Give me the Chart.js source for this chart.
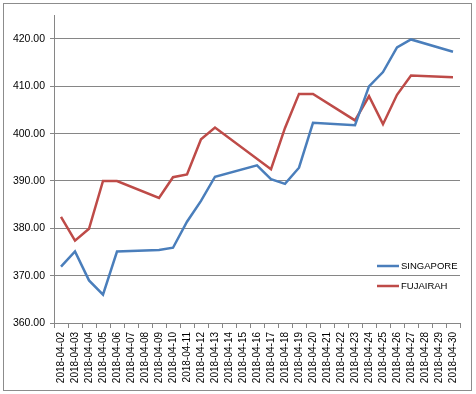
<!DOCTYPE html>
<html>
<head>
<meta charset="utf-8">
<script src="https://cdn.jsdelivr.net/npm/chart.js@4"></script>
<style>
    body { margin: 0; background: #fff; }
    .frame {
        position: absolute;
        left: 3px;
        top: 3px;
        width: 467px;
        height: 386px;
        border: 1px solid #8c8c8c;
    }
    canvas { display: block; }
</style>
</head>
<body>
<div class="frame"><canvas id="chart" width="467" height="386"></canvas></div>
<script>
const dates = [
    '2018-04-02', '2018-04-03', '2018-04-04', '2018-04-05', '2018-04-06', '2018-04-07',
    '2018-04-08', '2018-04-09', '2018-04-10', '2018-04-11', '2018-04-12', '2018-04-13',
    '2018-04-14', '2018-04-15', '2018-04-16', '2018-04-17', '2018-04-18', '2018-04-19',
    '2018-04-20', '2018-04-21', '2018-04-22', '2018-04-23', '2018-04-24', '2018-04-25',
    '2018-04-26', '2018-04-27', '2018-04-28', '2018-04-29', '2018-04-30'
];

// weekends have no prices, the line just runs across them
const singapore = [
    371.9, 375.1, 369.0, 366.0, 375.1, null,
    null, 375.4, 375.9, 381.4, 385.8, 390.9,
    null, null, 393.3, 390.4, 389.4, 392.8,
    402.3, null, null, 401.8, 410.0, 413.0,
    418.2, 419.9, null, null, 417.3
];

const fujairah = [
    382.4, 377.4, 379.9, 390.0, 390.0, null,
    null, 386.4, 390.8, 391.4, 398.8, 401.3,
    null, null, null, 392.5, 401.2, 408.4,
    408.4, null, null, 402.8, 407.9, 402.0,
    408.2, 412.3, null, null, 411.9
];

const seriesNames = ['SINGAPORE', 'FUJAIRAH'];
const seriesColors = ['#4a7ebb', '#be4b48'];

const axisGray = '#868686';
const labelFont = { family: "'Liberation Sans', Arial, sans-serif", size: 10 };

// small legend sitting inside the plot, lower right
const insideLegend = {
    id: 'insideLegend',
    afterDraw(chart) {
        const ctx = chart.ctx;
        ctx.save();
        ctx.font = "9.5px 'Liberation Sans', Arial, sans-serif";
        ctx.textBaseline = 'middle';
        chart.data.datasets.forEach((ds, i) => {
            const y = 262 + i * 20;
            ctx.strokeStyle = ds.borderColor;
            ctx.lineWidth = 2.5;
            ctx.beginPath();
            ctx.moveTo(373, y);
            ctx.lineTo(395, y);
            ctx.stroke();
            ctx.fillStyle = '#000';
            ctx.fillText(ds.label, 397, y + 0.5);
        });
        ctx.restore();
    }
};

new Chart(document.getElementById('chart'), {
    type: 'line',
    data: {
        labels: dates,
        datasets: [
            {
                label: seriesNames[0],
                data: singapore,
                borderColor: seriesColors[0],
                borderWidth: 2.5,
                pointRadius: 0,
                spanGaps: true,
                tension: 0
            },
            {
                label: seriesNames[1],
                data: fujairah,
                borderColor: seriesColors[1],
                borderWidth: 2.5,
                pointRadius: 0,
                spanGaps: true,
                tension: 0
            }
        ]
    },
    options: {
        responsive: false,
        animation: false,
        layout: { padding: { top: 11, right: 11, left: 0, bottom: 0 } },
        plugins: {
            legend: { display: false },
            tooltip: { enabled: false }
        },
        scales: {
            x: {
                offset: true,
                grid: {
                    offset: true,
                    drawOnChartArea: false,
                    color: axisGray,
                    tickLength: 5
                },
                border: { color: axisGray },
                ticks: {
                    autoSkip: false,
                    minRotation: 90,
                    maxRotation: 90,
                    color: '#000',
                    font: labelFont,
                    padding: 4
                },
                afterFit(scale) { scale.height = 67; }
            },
            y: {
                min: 360,
                max: 425,
                ticks: {
                    stepSize: 10,
                    color: '#000',
                    font: { family: labelFont.family, size: 10.5 },
                    padding: 5,
                    callback: v => v.toFixed(2)
                },
                afterBuildTicks(scale) {
                    scale.ticks = scale.ticks.filter(t => t.value % 10 === 0);
                },
                grid: { color: axisGray, tickLength: 4 },
                border: { color: axisGray },
                afterFit(scale) { scale.width = 50; }
            }
        }
    },
    plugins: [insideLegend]
});
</script>
</body>
</html>
